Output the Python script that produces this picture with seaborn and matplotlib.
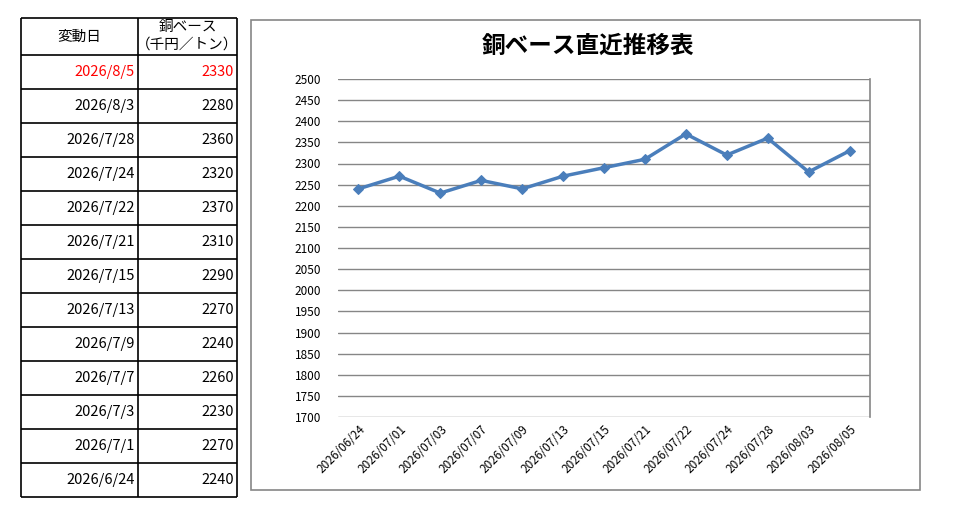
import matplotlib
matplotlib.use("Agg")
import matplotlib.pyplot as plt
import seaborn as sns
import pandas as pd
from matplotlib.patches import Rectangle

# table data (newest first) and chart data (oldest first)
table_dates = ["2026/8/5", "2026/8/3", "2026/7/28", "2026/7/24", "2026/7/22", "2026/7/21",
               "2026/7/15", "2026/7/13", "2026/7/9", "2026/7/7", "2026/7/3", "2026/7/1", "2026/6/24"]
table_values = [2330, 2280, 2360, 2320, 2370, 2310, 2290, 2270, 2240, 2260, 2230, 2270, 2240]

chart_dates = ["2026/06/24", "2026/07/01", "2026/07/03", "2026/07/07", "2026/07/09", "2026/07/13",
               "2026/07/15", "2026/07/21", "2026/07/22", "2026/07/24", "2026/07/28", "2026/08/03", "2026/08/05"]
chart_values = [2240, 2270, 2230, 2260, 2240, 2270, 2290, 2310, 2370, 2320, 2360, 2280, 2330]

sns.set_style("white")
plt.rcParams['font.family'] = ['Noto Sans CJK JP', 'DejaVu Sans']
plt.rcParams['text.color'] = 'black'
plt.rcParams['xtick.color'] = 'black'
plt.rcParams['ytick.color'] = 'black'

W, H = 956, 515
fig = plt.figure(figsize=(W / 100, H / 100), dpi=100)


def fig_rect(x0, y0, x1, y1):
    # pixel box (top-left origin) -> figure fraction rect
    return [x0 / W, 1 - y1 / H, (x1 - x0) / W, (y1 - y0) / H]


# ---- left table ----
tx0, tx1, ty0, ty1 = 21, 237, 18, 497
col_x = 138
head_h = 37
row_h = 34
tab = fig.add_axes(fig_rect(tx0, ty0, tx1, ty1))
tab.set_xlim(tx0, tx1)
tab.set_ylim(ty1, ty0)
tab.axis("off")
n = len(table_dates)
ys = [ty0, ty0 + head_h] + [ty0 + head_h + row_h * (i + 1) for i in range(n)]
tab.hlines(ys, tx0, tx1, color="black", lw=1.2, clip_on=False)
tab.vlines([tx0, col_x, tx1], ty0, ty1, color="black", lw=1.2, clip_on=False)
fs = 10.5
tab.text((tx0 + col_x) / 2, ty0 + head_h / 2, "変動日", ha="center", va="center", fontsize=fs)
tab.text((col_x + tx1) / 2, ty0 + 9, "銅ベース", ha="center", va="center", fontsize=fs)
tab.text((col_x + tx1) / 2, ty0 + 27, "（千円／トン）", ha="center", va="center", fontsize=fs)
for i, (d, v) in enumerate(zip(table_dates, table_values)):
    yc = ty0 + head_h + row_h * i + row_h / 2
    c = "red" if i == 0 else "black"
    tab.text(col_x - 3, yc, d, ha="right", va="center", fontsize=fs, color=c)
    tab.text(tx1 - 3, yc, str(v), ha="right", va="center", fontsize=fs, color=c)

# ---- chart frame ----
fig.patches.append(Rectangle((251 / W, 1 - 490 / H), (920 - 251) / W, (490 - 20) / H,
                             transform=fig.transFigure, fill=False, edgecolor="#868686", lw=1.2))
fig.text(588 / W, 1 - 46 / H, "銅ベース直近推移表", ha="center", va="center",
         fontsize=17, fontweight="bold", color="black")

ax = fig.add_axes(fig_rect(338, 79, 870, 417))
df = pd.DataFrame({"date": chart_dates, "value": chart_values})
sns.lineplot(data=df, x="date", y="value", ax=ax, color="#4A7EBB", lw=2.5,
             marker="D", markersize=5.5, markeredgecolor="#4A7EBB")
ax.set_xlim(-0.5, len(chart_dates) - 0.5)
ax.set_ylim(1700, 2500)
ax.set_yticks(range(1700, 2501, 50))
ax.grid(axis="y", color="#868686", lw=1)
ax.set_axisbelow(True)
for s in ["left", "top", "bottom"]:
    ax.spines[s].set_visible(False)
ax.spines["right"].set_color("#868686")
ax.spines["right"].set_linewidth(1.2)
ax.set_xlabel("")
ax.set_ylabel("")
ax.tick_params(axis="y", length=0, pad=12, labelsize=8.5)
ax.tick_params(axis="x", length=0, pad=4, labelsize=8.5)
ax.set_xticks(range(len(chart_dates)))
ax.set_xticklabels(chart_dates, rotation=45, ha="right", rotation_mode="anchor")

fig.savefig("out.png", dpi=100)
